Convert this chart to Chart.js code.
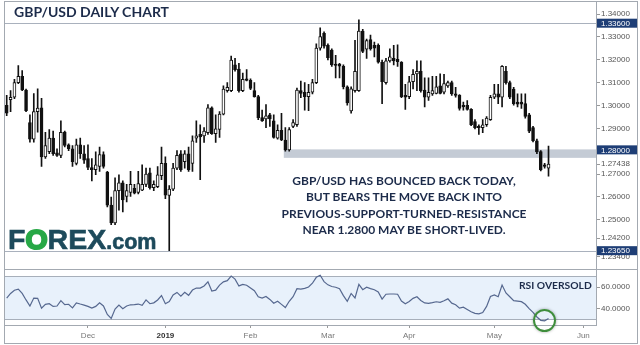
<!DOCTYPE html>
<html><head><meta charset="utf-8">
<script src="https://cdn.jsdelivr.net/npm/chart.js@4.4.0/dist/chart.umd.min.js"></script>
<style>
html,body{margin:0;padding:0;background:#fff;}
#wrap{position:relative;width:640px;height:345px;overflow:hidden;background:#fff;}
canvas{position:absolute;left:0;}
#cMain{top:0;}
#cRsi{top:266px;}
.ln{position:absolute;background:#a3a9b1;}
#title{position:absolute;left:14px;top:3px;font:bold 14px Lato,sans-serif;color:#1c2b4a;white-space:nowrap;}
#note{position:absolute;left:264px;top:173px;width:280px;text-align:center;font:bold 12px/16.4px Lato,sans-serif;color:#1c2b4a;white-space:nowrap;}
#logo{position:absolute;left:8px;top:223px;font:bold 28.5px "Liberation Sans",Arial,sans-serif;color:#1d4a5b;white-space:nowrap;-webkit-text-stroke:0.6px #1d4a5b;}
#logo .o{color:#27a846;-webkit-text-stroke:2px #27a846;}
#logo .com{font-size:21.5px;}
#rsiLbl{position:absolute;left:519px;top:279px;font:bold 10.3px Lato,sans-serif;color:#1c2b4a;white-space:nowrap;}
#circle{position:absolute;left:533px;top:309px;width:19px;height:19px;border:2px solid #3f8d3c;border-radius:50%;box-shadow:0 0 3px rgba(0,0,0,0.35);}
</style></head>
<body>
<div id="wrap">
<canvas id="cMain" width="640" height="268"></canvas>
<canvas id="cRsi" width="640" height="79"></canvas>
<div class="ln" style="left:4px;top:1px;width:634px;height:1px;"></div>
<div class="ln" style="left:4px;top:1px;width:1px;height:343px;"></div>
<div class="ln" style="left:637px;top:1px;width:1px;height:343px;"></div>
<div class="ln" style="left:4px;top:343px;width:634px;height:1px;"></div>
<div class="ln" style="left:596px;top:1px;width:1px;height:325px;"></div>
<div class="ln" style="left:4px;top:269px;width:634px;height:1px;"></div>
<div class="ln" style="left:4px;top:325px;width:593px;height:1px;"></div>
<div id="title">GBP/USD DAILY CHART</div>
<div id="note">GBP/USD HAS BOUNCED BACK TODAY,<br>BUT BEARS THE MOVE BACK INTO<br>PREVIOUS-SUPPORT-TURNED-RESISTANCE<br>NEAR 1.2800 MAY BE SHORT-LIVED.</div>
<div id="logo">F<span class="o">O</span>REX<span class="com">.com</span></div>
<div id="rsiLbl">RSI OVERSOLD</div>
<div id="circle"></div>
</div>
<script>
// ---- data (daily GBP/USD, Nov 2018 - May 2019) ----
const opens = [1.3001,1.3025,1.3036,1.3100,1.3128,1.3068,1.2925,1.2853,1.2973,1.2990,
1.2775,1.2798,1.2857,1.2793,1.2782,1.2884,1.2828,1.2811,1.2747,1.2828,
1.2789,1.2768,1.2729,1.2719,1.2733,1.2785,1.2709,1.2564,1.2486,1.2627,
1.2662,1.2602,1.2620,1.2638,1.2620,1.2630,1.2655,1.2705,1.2641,1.2645,
1.2693,1.2747,1.2607,1.2634,1.2726,1.2789,1.2754,1.2789,1.2747,1.2857,
1.2874,1.2867,1.2881,1.2990,1.2877,1.2895,1.2962,1.3065,1.3065,1.3178,
1.3159,1.3065,1.3117,1.3110,1.3065,1.3039,1.2947,1.2941,1.2959,1.2933,
1.2857,1.2891,1.2849,1.2806,1.2909,1.2916,1.3065,1.3058,1.3039,1.3058,
1.3100,1.3251,1.3316,1.3263,1.3242,1.3181,1.3181,1.3171,1.3082,1.2976,
1.3065,1.3065,1.3326,1.3246,1.3288,1.3263,1.3263,1.3189,1.3100,1.3195,
1.3206,1.3202,1.3189,1.3044,1.3039,1.3104,1.3138,1.3150,1.3068,1.3036,
1.3051,1.3053,1.3086,1.3058,1.3086,1.3100,1.3051,1.3044,1.3001,1.3001,
1.2983,1.2930,1.2909,1.2903,1.2916,1.2938,1.3036,1.3051,1.3036,1.3150,
1.3100,1.3072,1.3015,1.3015,1.3008,1.2959,1.2903,1.2846,1.2799,1.2740,
1.2726];
const highs = [1.3044,1.3065,1.3114,1.3175,1.3153,1.3072,1.2959,1.3052,1.3073,1.3031,
1.2883,1.2895,1.2888,1.2811,1.2933,1.2888,1.2832,1.2825,1.2853,1.2857,
1.2825,1.2828,1.2768,1.2797,1.2818,1.2797,1.2712,1.2599,1.2684,1.2697,
1.2670,1.2655,1.2712,1.2655,1.2712,1.2740,1.2726,1.2726,1.2670,1.2733,
1.2818,1.2775,1.2650,1.2747,1.2803,1.2803,1.2803,1.2818,1.2867,1.2933,
1.2916,1.2903,1.3004,1.2994,1.2959,1.2973,1.3086,1.3100,1.3216,1.3206,
1.3185,1.3142,1.3157,1.3117,1.3100,1.3044,1.2980,1.3004,1.2966,1.2959,
1.2916,1.2966,1.2903,1.2903,1.2938,1.3076,1.3107,1.3100,1.3093,1.3114,
1.3270,1.3340,1.3322,1.3270,1.3248,1.3220,1.3185,1.3178,1.3086,1.3082,
1.3285,1.3375,1.3333,1.3291,1.3308,1.3277,1.3270,1.3199,1.3206,1.3248,
1.3263,1.3265,1.3192,1.3093,1.3128,1.3157,1.3195,1.3195,1.3121,1.3121,
1.3128,1.3128,1.3138,1.3136,1.3107,1.3107,1.3079,1.3048,1.3015,1.3022,
1.2987,1.2938,1.2916,1.2938,1.2952,1.3044,1.3093,1.3093,1.3175,1.3171,
1.3107,1.3079,1.3051,1.3051,1.3051,1.2966,1.2909,1.2853,1.2803,1.2747,
1.2822];
const lows = [1.2955,1.2973,1.3030,1.3096,1.3065,1.2973,1.2840,1.2840,1.2883,1.2734,
1.2768,1.2789,1.2782,1.2777,1.2772,1.2819,1.2802,1.2733,1.2740,1.2768,
1.2747,1.2719,1.2670,1.2697,1.2712,1.2726,1.2556,1.2479,1.2479,1.2542,
1.2535,1.2578,1.2602,1.2613,1.2613,1.2627,1.2645,1.2634,1.2628,1.2641,
1.2676,1.2592,1.2365,1.2628,1.2719,1.2712,1.2726,1.2712,1.2712,1.2839,
1.2676,1.2839,1.2874,1.2874,1.2839,1.2860,1.2959,1.3058,1.3061,1.3150,
1.3058,1.3061,1.3107,1.3069,1.3036,1.2938,1.2930,1.2903,1.2909,1.2857,
1.2853,1.2846,1.2800,1.2800,1.2903,1.2909,1.3034,1.2980,1.2977,1.3051,
1.3096,1.3242,1.3251,1.3199,1.3171,1.3121,1.3121,1.3072,1.3001,1.2967,
1.3058,1.3062,1.3231,1.3206,1.3242,1.3213,1.3185,1.3008,1.3093,1.3189,
1.3178,1.3171,1.3034,1.2983,1.3030,1.3072,1.3065,1.3058,1.2994,1.3022,
1.3044,1.3051,1.3051,1.3051,1.3079,1.3044,1.3036,1.2980,1.2980,1.2980,
1.2912,1.2898,1.2874,1.2881,1.2909,1.2935,1.3030,1.3008,1.2994,1.3093,
1.3030,1.3001,1.2994,1.2987,1.2945,1.2881,1.2841,1.2789,1.2714,1.2726,
1.2691];
const closes = [1.2967,1.3036,1.3100,1.3128,1.3068,1.2977,1.2853,1.2973,1.2989,1.2775,
1.2825,1.2857,1.2789,1.2782,1.2883,1.2825,1.2811,1.2754,1.2828,1.2789,
1.2761,1.2729,1.2719,1.2740,1.2785,1.2733,1.2564,1.2486,1.2628,1.2662,
1.2587,1.2628,1.2655,1.2616,1.2659,1.2655,1.2700,1.2641,1.2655,1.2697,
1.2747,1.2608,1.2634,1.2726,1.2782,1.2719,1.2789,1.2719,1.2846,1.2867,
1.2863,1.2888,1.2990,1.2877,1.2898,1.2962,1.3072,1.3079,1.3199,1.3157,
1.3065,1.3114,1.3110,1.3075,1.3039,1.2947,1.2933,1.2955,1.2941,1.2860,
1.2891,1.2849,1.2806,1.2895,1.2925,1.3068,1.3053,1.3039,1.3058,1.3100,
1.3251,1.3302,1.3260,1.3209,1.3178,1.3175,1.3172,1.3082,1.3011,1.3073,
1.3150,1.3326,1.3237,1.3284,1.3248,1.3251,1.3189,1.3104,1.3195,1.3213,
1.3195,1.3192,1.3039,1.3036,1.3104,1.3136,1.3150,1.3065,1.3036,1.3058,
1.3065,1.3082,1.3053,1.3096,1.3100,1.3051,1.3044,1.2987,1.2994,1.2983,
1.2916,1.2903,1.2903,1.2916,1.2945,1.3036,1.3051,1.3036,1.3171,1.3100,
1.3036,1.3008,1.3006,1.3006,1.2952,1.2888,1.2846,1.2797,1.2719,1.2733,
1.2744];
const rsi = [49.7,54,57,58,54,48,42.4,49.7,49.5,40.4,
43.9,44.5,42,42.4,47.4,43.6,44,40.6,45.3,44.2,
43.2,42,40.4,42,45.3,42.4,34.5,30.9,39.5,43.2,
39.8,42.4,43.5,43.6,44.2,43,48,44.5,45.3,48,
52.1,44.5,46.5,52.6,55,51.5,55,52.3,57.2,59,
59,61,64.8,56.2,57.1,61.8,64.8,65.9,70.2,67.3,
61,62.4,61.6,59,56.5,51,49.7,51.2,48.5,45,
46.8,43.9,41,46.8,51,58.5,58,58.7,60,63.5,
69,70.9,65,62,60.5,59.8,58.5,52,46.8,54,
49.8,62.5,57.5,59.8,58.5,57.5,55.5,48.8,53.3,53.5,
53.5,53.3,47,44.5,46.5,49.5,50.9,47.5,45.2,44.8,
45.5,46.3,45.8,47.2,49,45,43.6,40.4,41.3,39.2,
37,35.6,35.1,36.3,42,51.2,52.7,51,61.8,54.5,
51,47.4,46.9,46.4,44,40,36.5,32.2,29.1,28.6,
30.7];
const monthIdx = [21,41,63,83,104,126,149];
const monthLbl = ['Dec','2019','Feb','Mar','Apr','May','Jun'];
const priceTicks = [1.34,1.33,1.32,1.31,1.30,1.29,1.27,1.26,1.25,1.242,1.234];
const rsiTicks = [40,60];
const levels = [{v:1.336,t:'1.33600'},{v:1.2806,t:'1.28000'},{v:1.2365,t:'1.23650'}];
const zone = {top:1.2808, bottom:1.2771, fromIdx:71.6};
const lastPrice = {v:1.27438, t:'1.27438'};
const rsiBand = [30,70];

// ---- view ranges ----
const X_MIN=-0.698, X_MAX=152.27;
const P_MIN=1.23146, P_MAX=1.34361;
const R_MIN=24.76, R_MAX=74.1;
const AX_FONT = {family:'"Liberation Sans", Arial, sans-serif', size:8};
const idx = opens.map((_, i) => i);

const wickData = idx.map(i => ({x:i, y:[lows[i], highs[i]]}));
const bodyData = idx.map(i => {
  let lo = Math.min(opens[i], closes[i]), hi = Math.max(opens[i], closes[i]);
  if (hi - lo < 0.0005) { const m=(hi+lo)/2; lo=m-0.00025; hi=m+0.00025; }
  return {x:i, y:[lo, hi]};
});
const bodyColors = idx.map(i => closes[i] >= opens[i] ? '#ffffff' : '#111111');

const mainPlugin = {
  id:'mainDeco',
  beforeDatasetsDraw(c){
    const {ctx, chartArea:a, scales:{x,y}} = c;
    ctx.save();
    ctx.fillStyle = '#c4cbd5';
    const zx = x.getPixelForValue(zone.fromIdx);
    const zt = y.getPixelForValue(zone.top), zb = y.getPixelForValue(zone.bottom);
    ctx.fillRect(zx, zt, a.right - zx, zb - zt);
    ctx.fillStyle = '#a9b1bd';
    [levels[0].v, levels[2].v].forEach(v => {
      const py = Math.round(y.getPixelForValue(v));
      ctx.fillRect(a.left, py, a.right - a.left, 1);
    });
    ctx.restore();
  },
  afterDraw(c){
    const {ctx, chartArea:a, scales:{y}} = c;
    ctx.save();
    ctx.font = '8px "Liberation Sans", Arial, sans-serif';
    ctx.textBaseline = 'middle';
    ctx.textAlign = 'left';
    const lp = y.getPixelForValue(lastPrice.v);
    ctx.fillStyle = '#999'; ctx.fillRect(a.right, Math.round(lp), 4, 1);
    ctx.fillStyle = '#555'; ctx.fillText(lastPrice.t, a.right + 5, lp);
    levels.forEach(l => {
      const py = y.getPixelForValue(l.v);
      ctx.fillStyle = '#1e3e76';
      ctx.fillRect(a.right + 1, py - 4.5, 40, 9);
      ctx.fillStyle = '#ffffff';
      ctx.fillText(l.t, a.right + 5, py + 0.5);
    });
    ctx.restore();
  }
};

new Chart(document.getElementById('cMain'), {
  type:'bar',
  data:{datasets:[
    {data:wickData, backgroundColor:'#111', barThickness:1, grouped:false, order:2},
    {data:bodyData, backgroundColor:bodyColors, borderColor:'#111', borderWidth:1, borderSkipped:false, barThickness:3, grouped:false, order:1}
  ]},
  options:{
    responsive:false, animation:false, devicePixelRatio:1,
    layout:{padding:{left:4, right:0, top:3, bottom:2}},
    plugins:{legend:{display:false}, tooltip:{enabled:false}},
    scales:{
      x:{type:'linear', min:X_MIN, max:X_MAX, offset:false, display:false},
      y:{type:'linear', position:'right', min:P_MIN, max:P_MAX,
         afterFit(s){ s.width = 44; },
         afterBuildTicks(s){ s.ticks = priceTicks.map(v => ({value:v})); },
         grid:{display:true, drawOnChartArea:false, drawTicks:true, tickLength:4, color:'#999'},
         border:{display:false},
         ticks:{font:AX_FONT, color:'#555', padding:1, callback:v => Number(v).toFixed(5)}}
    }
  },
  plugins:[mainPlugin]
});

const rsiPlugin = {
  id:'rsiDeco',
  beforeDatasetsDraw(c){
    const {ctx, chartArea:a, scales:{y}} = c;
    const t = y.getPixelForValue(rsiBand[1]), b = y.getPixelForValue(rsiBand[0]);
    ctx.save();
    ctx.fillStyle = '#e8f1fb';
    ctx.fillRect(a.left, t, a.right - a.left, b - t);
    ctx.fillStyle = '#a7afba';
    ctx.fillRect(a.left, Math.round(t), a.right - a.left, 1);
    ctx.fillRect(a.left, Math.round(b), a.right - a.left, 1);
    ctx.restore();
  }
};

new Chart(document.getElementById('cRsi'), {
  type:'line',
  data:{datasets:[{data:idx.map(i => ({x:i, y:rsi[i]})), borderColor:'#56688f', borderWidth:1.2, pointRadius:0, tension:0, fill:false}]},
  options:{
    responsive:false, animation:false, devicePixelRatio:1,
    layout:{padding:{left:4, right:0, top:3, bottom:0}},
    plugins:{legend:{display:false}, tooltip:{enabled:false}},
    scales:{
      x:{type:'linear', min:X_MIN, max:X_MAX, offset:false,
         afterFit(s){ s.height = 20; },
         afterBuildTicks(s){ s.ticks = monthIdx.map(v => ({value:v})); },
         grid:{display:true, drawOnChartArea:false, drawTicks:true, tickLength:3, color:'#999'},
         border:{display:false},
         ticks:{maxRotation:0, autoSkip:false, padding:3,
           color:(ctx) => ctx.tick && ctx.tick.value === 41 ? '#333' : '#777',
           font:(ctx) => ({family:AX_FONT.family, size:8, weight: ctx.tick && ctx.tick.value === 41 ? 'bold' : 'normal'}),
           callback:v => monthLbl[monthIdx.indexOf(v)]}},
      y:{type:'linear', position:'right', min:R_MIN, max:R_MAX,
         afterFit(s){ s.width = 44; },
         afterBuildTicks(s){ s.ticks = rsiTicks.map(v => ({value:v})); },
         grid:{display:true, drawOnChartArea:false, drawTicks:true, tickLength:4, color:'#999'},
         border:{display:false},
         ticks:{font:AX_FONT, color:'#555', padding:1, callback:v => Number(v).toFixed(4)}}
    }
  },
  plugins:[rsiPlugin]
});
</script>
</body></html>
